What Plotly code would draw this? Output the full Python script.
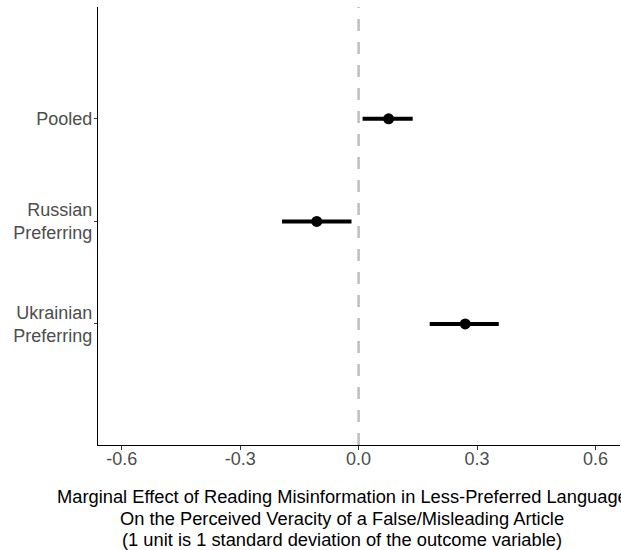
import plotly.graph_objects as go

groups = ["Pooled", "Russian<br>Preferring", "Ukrainian<br>Preferring"]
estimate = [0.076, -0.106, 0.270]
ci_low = [0.010, -0.194, 0.180]
ci_high = [0.137, -0.018, 0.355]
x_ticks = [-0.6, -0.3, 0.0, 0.3, 0.6]
x_ticklabels = ["-0.6", "-0.3", "0.0", "0.3", "0.6"]
x_title_lines = ["Marginal Effect of Reading Misinformation in Less-Preferred Language",
                 "On the Perceived Veracity of a False/Misleading Article",
                 "(1 unit is 1 standard deviation of the outcome variable)"]

err_plus = [h - e for h, e in zip(ci_high, estimate)]
err_minus = [e - l for e, l in zip(estimate, ci_low)]

W, H = 621, 550
L, R, T, B = 98, 1, 7, 105
PH = H - T - B

fig = go.Figure()
fig.add_shape(type="line", x0=0, x1=0, y0=0, y1=1, xref="x", yref="paper",
              line=dict(color="#BEBEBE", width=2.5, dash="12px,11px"), layer="below")
fig.add_trace(go.Scatter(
    x=estimate, y=groups, mode="markers",
    marker=dict(color="black", size=11),
    error_x=dict(type="data", symmetric=False, array=err_plus, arrayminus=err_minus,
                 color="black", thickness=4, width=0),
    showlegend=False, hoverinfo="skip"))

fig.update_layout(
    width=W, height=H,
    margin=dict(l=L, r=R, t=T, b=B),
    paper_bgcolor="white", plot_bgcolor="white",
    font=dict(family="Liberation Sans, Arial, sans-serif", size=18, color="#4D4D4D"),
    xaxis=dict(range=[-0.66, 0.662], tickvals=x_ticks, ticktext=x_ticklabels,
               showgrid=False, zeroline=False, showline=True, linecolor="black",
               linewidth=1.2, ticks="outside", ticklen=4, tickcolor="#333333",
               ticklabelstandoff=-7,
               tickfont=dict(size=18, color="#4D4D4D")),
    yaxis=dict(type="category", categoryorder="array", categoryarray=groups,
               range=[3.18, -1.09], showgrid=False, zeroline=False, showline=True,
               linecolor="black", linewidth=1.2, ticks="outside", ticklen=3,
               tickcolor="#333333", ticklabelstandoff=-2,
               tickfont=dict(size=18, color="#4D4D4D")),
)

title_centers = [496, 518, 539]
for line, yc in zip(x_title_lines, title_centers):
    fig.add_annotation(text=line, xref="paper", yref="paper",
                       x=(342 - L) / (W - L - R), y=((H - B) - yc) / PH,
                       xanchor="center", yanchor="middle", showarrow=False,
                       font=dict(size=18.3, color="black",
                                 family="Liberation Sans, Arial, sans-serif"))

fig.write_html("out.html")
